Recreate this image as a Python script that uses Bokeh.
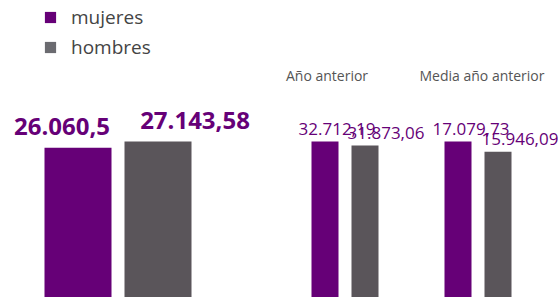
from bokeh.plotting import figure
from bokeh.models import Range1d, Legend, LegendItem, Label, ColumnDataSource
from bokeh.embed import file_html
from bokeh.resources import INLINE

# ---- data ----
series = ["mujeres", "hombres"]
panel_titles = ["", "Año anterior", "Media año anterior"]
current_values = [26060.5, 27143.58]
prev_year_values = [32712.19, 31873.06]
prev_year_mean_values = [17079.73, 15946.09]
current_labels = ["26.060,5", "27.143,58"]
prev_year_labels = ["32.712,19", "31.873,06"]
prev_year_mean_labels = ["17.079,73", "15.946,09"]

# ---- style / layout ----
PURPLE = "#660077"
GRAY = "#5a555a"
LEGEND_GRAY = "#6b6b70"
W, H = 558, 297
FONT = "Open Sans"
TOP_FRAC = 297 / 156.0  # plot height relative to tallest bar

p = figure(width=W, height=H, output_backend="svg", toolbar_location=None,
           min_border=0, x_range=Range1d(0, 1), y_range=Range1d(0, 1))
p.axis.visible = False
p.grid.visible = False
p.outline_line_color = None
p.background_fill_color = None
p.border_fill_color = None

panels = [
    dict(vals=current_values, labels=current_labels, unit=80.0, center0=77.5,
         bw=0.8375, bold=True, fs="24px", loff=[-16, 37], yoff=21,
         title=panel_titles[0]),
    dict(vals=prev_year_values, labels=prev_year_labels, unit=40.0, center0=324.5,
         bw=0.675, bold=False, fs="17px", loff=[12, 21], yoff=13,
         title=panel_titles[1], toff=-18),
    dict(vals=prev_year_mean_values, labels=prev_year_mean_labels, unit=40.0,
         center0=457.5, bw=0.675, bold=False, fs="17px", loff=[13, 22], yoff=13,
         title=panel_titles[2], toff=4),
]

colors = [PURPLE, GRAY]
for i, pan in enumerate(panels):
    xs = -pan["center0"] / pan["unit"]
    xname, yname = f"x{i}", f"y{i}"
    p.extra_x_ranges[xname] = Range1d(xs, xs + W / pan["unit"])
    p.extra_y_ranges[yname] = Range1d(0, max(pan["vals"]) * TOP_FRAC)
    src = ColumnDataSource(dict(x=list(range(len(series))), top=pan["vals"],
                                color=colors, label=pan["labels"],
                                xoff=pan["loff"]))
    p.vbar(x="x", top="top", width=pan["bw"], fill_color="color",
           line_color=None, source=src, x_range_name=xname, y_range_name=yname)
    p.text(x="x", y="top", text="label", source=src, x_offset="xoff",
           y_offset=-pan["yoff"], text_align="center", text_baseline="alphabetic",
           text_color=PURPLE, text_font=dict(value=FONT),
           text_font_size=pan["fs"], text_font_style="bold" if pan["bold"] else "normal",
           x_range_name=xname, y_range_name=yname)
    if pan["title"]:
        p.add_layout(Label(x=(len(series) - 1) / 2, y=H - 75, y_units="screen",
                           x_offset=pan["toff"], text=pan["title"],
                           text_align="center", text_baseline="alphabetic",
                           text_color="#555555", text_font=FONT,
                           text_font_size="14px", x_range_name=xname))

# legend with dedicated swatches
lr1 = p.vbar(x=0, top=0, width=0, fill_color=PURPLE, line_color=None,
             x_range_name="x0", y_range_name="y0")
lr2 = p.vbar(x=0, top=0, width=0, fill_color=LEGEND_GRAY, line_color=None,
             x_range_name="x0", y_range_name="y0")
legend = Legend(items=[LegendItem(label=series[0], renderers=[lr1]),
                       LegendItem(label=series[1], renderers=[lr2])],
                location=(43, H - 60), orientation="vertical",
                glyph_width=14, glyph_height=14, label_standoff=14,
                label_height=24, spacing=4, padding=0, margin=0,
                label_text_font=FONT, label_text_font_size="19px",
                label_text_color="#444444", border_line_color=None,
                background_fill_alpha=0)
p.add_layout(legend)

open("out.html", "w").write(file_html(p, INLINE))
